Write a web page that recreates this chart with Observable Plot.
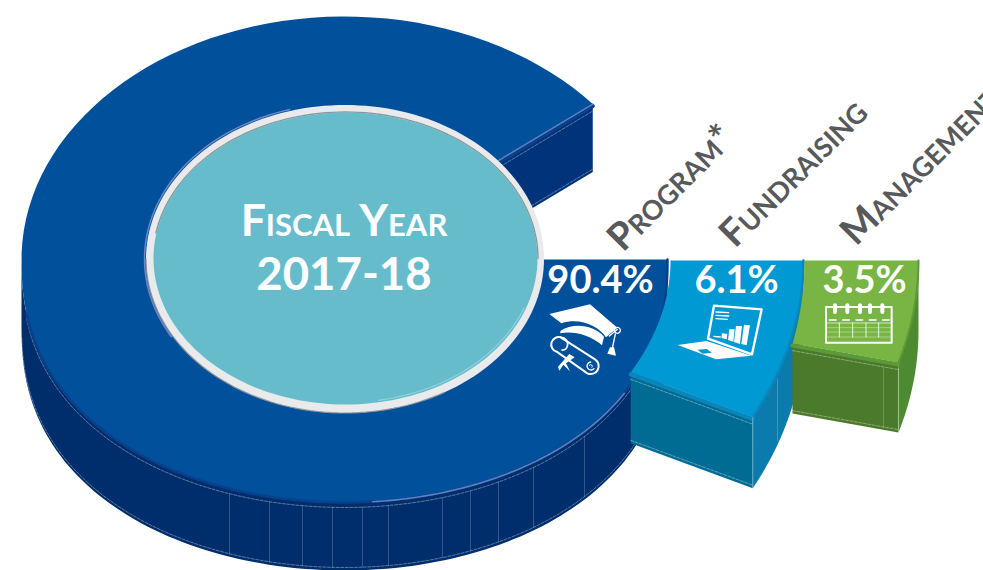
<!DOCTYPE html>
<html><head><meta charset="utf-8">
<script src="https://cdn.jsdelivr.net/npm/d3@7"></script>
<script src="https://cdn.jsdelivr.net/npm/@observablehq/plot@0.6"></script>
<style>html,body{margin:0;padding:0;background:#fff;overflow:hidden}svg{display:block}</style>
</head><body><div id="chart"></div>
<script>
// DATA
const categories = ["Program*", "Fundraising", "Management"];
const shares = [90.4, 6.1, 3.5];
const shareLabels = ["90.4%", "6.1%", "3.5%"];
const centerLines = ["Fiscal Year", "2017-18"];

// STYLE + LAYOUT of the exploded 3D ring (one entry per slice)
const topColors  = ["#00509b", "#0099d4", "#78b544"];
const sideColors = ["#002e6c", "#0a7bac", "#4e8a32"];
const endColors  = ["#00337a", "#006c93", "#4b7a2a"];
const bevelColors = ["#0a3f8a", "#0a86ba", "#5c9a38"];
const warp   = [0.984, 1, 1];
const cxOut  = [344, 104, 85];
const cxIn   = [344, 122, 304];
const cyAll  = [259, 260, 260];
const rxOut  = [323, 699, 833];
const ryOut  = [243, 419, 468];
const rxIn   = [198, 548, 500];
const ryIn   = [153, 299, 381];
const depth  = [68, 71, 70];
const facetX = [229, 269, 302, 332, 362, 388, 442, 470, 498, 533, 584];
const rad = Math.PI / 180;

function bulge(i, a) {
  const s = Math.sin(a * rad);
  return i === 0 && s > 0 ? Math.pow(s, 0.86) : s;
}
const ptO = (i, a, dy = 0) => [cxOut[i] + rxOut[i] * Math.cos(a * rad), cyAll[i] + ryOut[i] * bulge(i, a) + dy];
const ptI = (i, a, dy = 0) => [cxIn[i] + rxIn[i] * Math.cos(a * rad), cyAll[i] + ryIn[i] * Math.sin(a * rad) + dy];
const arc = (f, i, a0, a1, dy = 0) => d3.range(0, 121).map(k => f(i, a0 + (a1 - a0) * k / 120, dy));
const sweep = i => shares[i] * 3.6 * warp[i];
const poly = (pts, fill) => Plot.line(pts, {x: d => d[0], y: d => d[1], fill, stroke: "none", curve: "linear-closed"});
const path = (pts, stroke, strokeWidth, extra = {}) => Plot.line(pts, {x: d => d[0], y: d => d[1], stroke, strokeWidth, ...extra});
const dashed = (pts, op = .6) => path(pts, `rgba(255,255,255,${op})`, 0.6, {strokeDasharray: "3,1.5"});
const lerp = (p, q, t) => [p[0] + (q[0] - p[0]) * t, p[1] + (q[1] - p[1]) * t];
function angleAtXSlice(i, x) { return Math.acos((x - cxOut[i]) / rxOut[i]) / rad; }

const sliceMarks = i => {
  const s = sweep(i);
  const sideEnd = Math.min(s, 180);
  return [
    poly([...arc(ptO, i, 0, sideEnd), ...arc(ptO, i, sideEnd, 0, depth[i])], sideColors[i]),
    poly([ptI(i, s), ptO(i, s), ptO(i, s, depth[i]), ptI(i, s, depth[i])], endColors[i]),
    dashed([ptI(i, s, 7), ptO(i, s, 7)]),
    dashed([ptI(i, s, depth[i] - 3), ptO(i, s, depth[i] - 3)]),
    path([ptI(i, s, 2), ptO(i, s, 2)], bevelColors[i], 4),
    poly([...arc(ptO, i, 0, s), ...arc(ptI, i, s, 0)], topColors[i])
  ];
};

// facet seams on the front of the large slice
const facetMarks = facetX.map(x => {
  const a = angleAtXSlice(0, x);
  return path([ptO(0, a, 5), ptO(0, a, depth[0] - 3)], "rgba(255,255,255,.28)", 0.7);
});

const seam = (i, a0, a1, dy) => dashed(arc(ptO, i, a0, a1, dy), .6);

// Icons are decoration: glyphs placed at a chart position, in a local 3x grid
const iconMark = (index, {x, y}) => {
  const g = d3.create("svg:g").attr("transform", `translate(${x(530)},${y(240)}) scale(${1/3})`);
  const P = (d, fill = "#fff", stroke = "none", w = 0) => g.append("path").attr("d", d).attr("fill", fill).attr("stroke", stroke).attr("stroke-width", w).attr("stroke-linejoin", "round").attr("stroke-linecap", "round");
  // cap
  P("M58 222 L180 193 L262 263 L228 292 C205 258 150 232 94 250 Z");
  P("M92 272 C130 248 190 254 222 290 L216 316 C180 285 130 272 90 280 Z");
  P("M238 288 L262 268", "none", "#fff", 4);
  P("M262 262 a9 9 0 1 0 .1 0", "none", "#fff", 4);
  P("M256 282 L246 330", "none", "#fff", 4);
  P("M232 341 L258 347 L252 322 L240 322 Z");
  // diploma
  P("M92 292 L195 358 A24 24 0 0 1 172 400 L80 335 A22 22 0 0 1 92 292 Z", "none", "#fff", 6);
  P("M92 292 A20 20 0 0 1 112 318 A14 14 0 0 1 96 330", "none", "#fff", 5);
  P("M182 366 A12 12 0 1 0 192 386", "none", "#fff", 4);
  P("M178 376 A5 5 0 1 1 186 382", "none", "#fff", 3);
  P("M84 380 L118 342 L134 352 L108 370 L120 394 L100 374 L88 392 Z");
  // laptop
  P("M552 197 L695 208 L666 343 L534 296 Z", "none", "#fff", 7);
  P("M443 315 L530 303 L664 347 L558 358 Z");
  P("M502 329 L530 327 L546 338 L518 341 Z", "#0099d4");
  P("M558 216 L596 218 M558 226 L596 228 M558 236 L592 238", "none", "#fff", 4);
  P("M550 287 L572 289 L572 293 L550 291 Z M576 280 L592 282 L590 298 L574 294 Z M598 268 L614 268 L610 305 L594 300 Z M618 258 L636 258 L630 312 L612 306 Z M642 254 L660 256 L650 316 L634 312 Z");
  // calendar
  P("M888 201 H1085 V308 H888 Z", "none", "#fff", 6);
  [915, 952, 990, 1020, 1057].forEach(cx => { P(`M${cx-6} 196 a6 6 0 0 1 12 0 V216 a6 6 0 0 1 -12 0 Z`); });
  [898, 938, 978, 1018, 1058].forEach(cx => P(`M${cx} 240 h20`, "none", "#fff", 5));
  P("M890 249 H1084", "none", "#fff", 2);
  P("M890 263 H1084 M890 276 H1084 M890 291 H1084", "none", "#d9ecc8", 1.5);
  P("M928 249 V291 M968 249 V291 M1008 249 V291 M1046 249 V291", "none", "#fff", 2.5);
  return g.node();
};

const labelX = [600, 736, 864];
const nameX = [614, 726, 847];
const nameY = [244, 240, 238];
const ell = (cx, cy, rx, ry, a0 = 0, a1 = 360) => d3.range(a0, a1 + 1, 2).map(a => [cx + rx * Math.cos(a * rad), cy + ry * Math.sin(a * rad)]);

const chart = Plot.plot({
  width: 983, height: 570, margin: 0,
  x: {domain: [0, 983], range: [0, 983], axis: null},
  y: {domain: [0, 570], range: [0, 570], axis: null},
  style: {background: "transparent"},
  marks: [
    ...sliceMarks(0),
    ...facetMarks,
    seam(0, 8, 170, 5),
    seam(0, 8, 178, depth[0] - 3),
    path(arc(ptO, 0, 0, 170), bevelColors[0], 2.5),
    path(arc(ptO, 0, 30, 85), "#5f7fbf", 1.6),
    path([ptI(0, sweep(0)), ptO(0, sweep(0))], "#5f7fbf", 1.4),
    ...sliceMarks(1),
    path(arc(ptO, 1, 0, sweep(1)), bevelColors[1], 2.5),
    path([ptO(1, angleAtXSlice(1, 777), 5), ptO(1, angleAtXSlice(1, 777), depth[1] - 4)], "rgba(255,255,255,.3)", 0.7),
    path([ptO(1, sweep(1)), ptO(1, sweep(1), depth[1])], "rgba(255,255,255,.45)", 0.8),
    ...sliceMarks(2),
    path(arc(ptO, 2, 0, sweep(2)), bevelColors[2], 2),
    path([lerp(ptI(2, sweep(2), 8), ptO(2, sweep(2), 8), .86), lerp(ptI(2, sweep(2), 68), ptO(2, sweep(2), 68), .86)], "rgba(255,255,255,.3)", 0.7),
    path([ptO(2, sweep(2), 6), ptO(2, sweep(2), depth[2])], "rgba(255,255,255,.45)", 0.8),
    // hub
    poly(ell(344.5, 258.5, 199, 154), "#e9eaeb"),
    path(ell(344.5, 258.5, 200.5, 155.5, 150, 255), "#6f86c4", 1.5),
    path(ell(344.5, 258.5, 199, 154, 60, 180), "#8f9498", 1.2),
    path(ell(345, 258, 192.5, 146.5, 190, 360), "#8f9498", 1.4),
    poly(ell(345, 258, 192, 146), "#67bccc"),
    path(ell(345, 258, 190, 144, 20, 80), "#8ed0dc", 1.2),
    Plot.text([centerLines[0]], {x: () => 343.5, y: () => 235, text: d => d, fontFamily: "Lato", fontWeight: 700, fontSize: 44.5, fontVariant: "small-caps", fill: "#fff", lineAnchor: "bottom", textAnchor: "middle"}),
    Plot.text([centerLines[1]], {x: () => 343.5, y: () => 289, text: d => d, fontFamily: "Lato", fontWeight: 700, fontSize: 45.5, fill: "#fff", lineAnchor: "bottom", textAnchor: "middle"}),
    Plot.text(shareLabels, {x: (d, i) => labelX[i], y: () => 292, text: d => d, fontFamily: "Lato", fontWeight: 700, fontSize: 38, fill: "#fff", lineAnchor: "bottom", textAnchor: "middle"}),
    Plot.text(categories, {x: (d, i) => nameX[i], y: (d, i) => nameY[i], text: d => d, rotate: -45, fontFamily: "Lato", fontSize: 38, fontWeight: 700, fontVariant: "small-caps", fill: "#58595b", textAnchor: "start", lineAnchor: "middle"}),
    iconMark
  ]
});
document.getElementById("chart").append(chart);
</script></body></html>
